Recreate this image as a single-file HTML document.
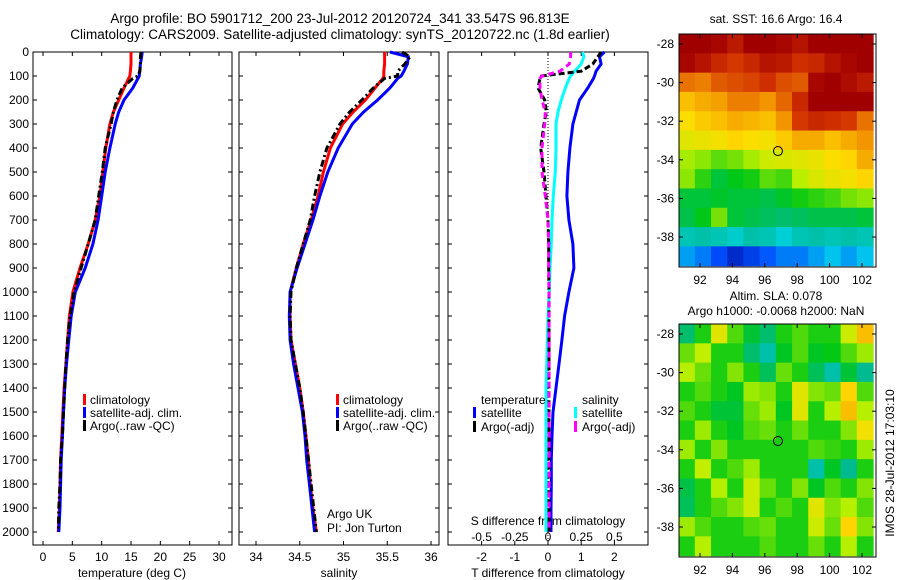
<!DOCTYPE html>
<html><head><meta charset="utf-8"><style>
html,body{margin:0;padding:0;background:#fff;}
svg{display:block;font-family:"Liberation Sans",sans-serif;}
</style></head><body>
<svg id="chart" width="900" height="580" viewBox="0 0 900 580" xmlns="http://www.w3.org/2000/svg">
<text x="340" y="23" font-size="13.5" text-anchor="middle">Argo profile: BO 5901712_200 23-Jul-2012 20120724_341 33.547S 96.813E</text>
<text x="340" y="39" font-size="13.5" text-anchor="middle">Climatology: CARS2009. Satellite-adjusted climatology: synTS_20120722.nc (1.8d earlier)</text>
<text x="776" y="23" font-size="12" text-anchor="middle">sat. SST: 16.6 Argo: 16.4</text>
<text x="776" y="300" font-size="12" text-anchor="middle">Altim. SLA: 0.078</text>
<text x="776" y="315" font-size="12" text-anchor="middle">Argo h1000: -0.0068 h2000: NaN</text>
<text transform="translate(894,463) rotate(-90)" font-size="12" text-anchor="middle">IMOS 28-Jul-2012 17:03:10</text>
<g id="g"></g>
</svg>
<script>
const depths=[0,20,50,80,100,110,150,200,250,300,400,500,600,700,800,900,1000,1100,1200,1300,1400,1500,1600,1700,1800,1900,2000];
const tempClim=[15.0,15.0,15.0,14.9,14.8,14.6,13.8,12.9,12.0,11.4,10.7,10.2,9.7,8.9,7.7,6.3,5.1,4.5,4.2,3.9,3.6,3.4,3.2,3.0,2.9,2.8,2.6];
const tempSat=[16.9,16.8,16.6,16.5,16.4,16.2,15.3,13.8,12.9,12.3,11.4,10.6,10.0,9.4,8.5,7.2,5.5,4.8,4.4,4.0,3.7,3.5,3.3,3.1,3.0,2.9,2.7];
const tempArgo=[16.7,16.6,16.6,16.5,16.2,15.3,13.5,12.6,12.0,11.6,10.6,10.1,9.5,8.9,7.7,6.5,5.3,4.6,4.2,3.9,3.7,3.5,3.3,3.0,2.9,2.7,2.6];
const salClim=[35.47,35.47,35.47,35.46,35.46,35.45,35.36,35.25,35.11,34.99,34.85,34.77,34.71,34.63,34.54,34.46,34.39,34.39,34.40,34.45,34.50,34.54,34.57,34.60,34.62,34.65,34.69];
const salSat=[35.53,35.74,35.73,35.69,35.66,35.62,35.53,35.39,35.23,35.10,34.94,34.82,34.73,34.65,34.56,34.47,34.39,34.38,34.39,34.43,34.48,34.53,34.56,34.58,34.61,34.64,34.67];
const salArgo=[35.67,35.76,35.70,35.62,35.62,35.47,35.34,35.21,35.07,34.96,34.81,34.73,34.67,34.62,34.54,34.46,34.40,34.39,34.40,34.45,34.50,34.54,34.57,34.60,34.63,34.66,34.69];
const tDiffSat=[1.7,1.55,1.6,1.45,1.4,1.37,1.2,0.95,0.85,0.75,0.66,0.6,0.57,0.63,0.75,0.78,0.63,0.5,0.42,0.33,0.24,0.15,0.12,0.1,0.1,0.09,0.09];
const tDiffArgo=[1.6,1.5,1.35,1.0,-0.2,-0.24,-0.3,-0.1,-0.05,-0.12,-0.22,-0.12,-0.06,0.0,0.02,0.02,0.03,0.03,0.03,0.03,0.03,0.03,0.03,0.03,0.03,0.03,0.03];
const sDiffSat=[0.26,0.27,0.25,0.2,0.17,0.16,0.13,0.1,0.075,0.06,0.06,0.055,0.04,0.03,0.025,0.015,0.01,0.0,-0.005,-0.01,-0.015,-0.015,-0.015,-0.015,-0.015,-0.015,-0.015];
const sDiffArgo=[0.17,0.17,0.16,0.09,-0.045,-0.06,-0.06,-0.045,-0.02,-0.025,-0.045,-0.045,-0.02,0.0,0.005,0.005,0.008,0.008,0.008,0.008,0.008,0.008,0.008,0.008,0.008,0.008,0.008];
const depthTicks=[0,100,200,300,400,500,600,700,800,900,1000,1100,1200,1300,1400,1500,1600,1700,1800,1900,2000];
const tempTicks=[0,5,10,15,20,25,30];
const salTicks=[34,34.5,35,35.5,36];
const tDiffTicks=[-2,-1,0,1,2];
const sDiffTicks=[-0.5,-0.25,0,0.25,0.5];
const sDiffTickLabels=["-0.5","-0.25","0","0.25","0.5"];
const lonTicks=[92,94,96,98,100,102];
const latTicks=[-28,-30,-32,-34,-36,-38];
const gridLats=[-28,-29,-30,-31,-32,-33,-34,-35,-36,-37,-38,-39];
const gridLons=[91.2,92.2,93.2,94.2,95.2,96.2,97.2,98.2,99.2,100.2,101.2,102.2];
const sst=[
[19.8,19.8,19.5,19.2,19.6,19.8,19.5,19.3,19.6,19.8,19.8,19.8],
[19.5,19.3,19.0,18.8,19.0,19.3,19.2,18.9,19.0,19.3,19.5,19.6],
[18.3,18.2,18.5,18.6,18.7,18.9,18.6,18.5,19.5,19.8,19.4,19.2],
[17.6,17.8,17.9,18.2,18.2,18.0,18.4,19.0,19.8,19.8,19.7,19.6],
[17.3,17.5,17.6,17.8,17.7,17.6,18.0,18.8,19.0,18.9,18.8,18.3],
[17.0,17.1,17.2,17.4,17.3,17.2,17.5,17.8,17.8,17.6,17.8,18.0],
[16.5,16.4,16.2,16.3,16.5,16.8,16.9,17.0,17.1,17.3,17.4,17.8],
[16.4,16.0,15.6,15.8,15.9,16.2,16.1,16.6,16.9,17.1,17.2,17.4],
[15.6,15.6,15.7,15.6,15.6,15.5,15.7,15.9,16.0,16.1,16.3,16.4],
[15.5,15.8,16.3,15.6,15.5,15.4,15.3,15.4,15.5,15.5,15.5,15.6],
[14.8,14.9,14.8,14.6,14.9,14.8,14.5,14.8,14.9,14.8,14.9,14.8],
[14.0,13.8,13.5,13.2,13.4,13.6,13.8,13.8,14.0,14.2,14.0,14.2]];
const sla=[
[-0.06,0.0,0.1,0.02,-0.03,-0.06,0.0,0.02,0.0,0.0,0.08,0.16],
[0.03,0.07,0.0,0.0,-0.06,-0.1,-0.02,0.02,-0.02,-0.01,0.02,0.05],
[0.06,0.03,0.0,0.04,0.0,-0.05,0.03,0.0,-0.05,-0.1,-0.03,-0.08],
[0.0,0.02,0.0,-0.02,0.05,0.04,0.0,0.1,0.04,0.03,0.14,0.02],
[0.02,0.0,-0.03,-0.03,0.03,0.05,-0.02,0.1,0.0,0.06,0.16,0.06],
[0.0,0.05,0.0,-0.02,0.02,0.03,0.0,0.03,0.0,0.0,0.04,0.12],
[0.05,0.0,0.04,0.0,0.0,0.0,0.0,0.0,0.02,0.01,0.0,0.05],
[0.0,0.07,0.0,0.02,0.05,0.0,0.0,0.0,-0.1,-0.02,-0.08,0.0],
[-0.04,0.0,0.06,0.0,0.08,0.03,0.0,0.04,-0.02,0.02,0.0,0.04],
[-0.05,0.0,0.02,0.04,0.08,0.0,0.02,0.0,0.1,0.04,0.06,0.02],
[0.05,0.02,0.0,0.0,0.02,0.03,0.0,0.0,0.08,0.03,0.14,0.04],
[0.0,0.06,0.0,0.0,0.0,0.02,0.0,0.0,0.03,0.0,0.06,0.0]];
const argoLon=96.813, argoLat=-33.547;

const NS="http://www.w3.org/2000/svg";
const G=document.getElementById('g');
function mk(tag,attrs,parent){const e=document.createElementNS(NS,tag);for(const k in attrs)e.setAttribute(k,attrs[k]);(parent||G).appendChild(e);return e;}
const yD=d=>52+d*0.24;
const PT={x0:33,x1:232}, PS={x0:239,x1:439}, PD={x0:448,x1:648};
const xT=v=>43+v*5.867;
const xS=v=>256+(v-34)*87.5;
const xTd=v=>548+v*33.2;
const xSd=v=>548+v*132.8;
const TOP=52,BOT=545;

function frame(P,name){
  const r=mk('rect',{x:P.x0,y:TOP,width:P.x1-P.x0,height:BOT-TOP,fill:'none',stroke:'#000','stroke-width':1});
  
  
  depthTicks.forEach(d=>{
    mk('line',{x1:P.x0,x2:P.x0+4,y1:yD(d),y2:yD(d),stroke:'#000'});
    mk('line',{x1:P.x1-4,x2:P.x1,y1:yD(d),y2:yD(d),stroke:'#000'});
  });
}
function xticks(P,ticks,fx,labels,y,name,top){
  ticks.forEach((t,i)=>{
    const x=fx(t);
    mk('line',{x1:x,x2:x,y1:BOT,y2:BOT-4,stroke:'#000'});
    if(top!==false) mk('line',{x1:x,x2:x,y1:TOP,y2:TOP+4,stroke:'#000'});
    const tx=mk('text',{x:x,y:y,'font-size':12,'text-anchor':'middle'});
    tx.textContent=labels?labels[i]:String(t);
    
    
  });
}
function series(vals,fx,color,dash,name,width){
  const pts=[];
  vals.forEach((v,i)=>pts.push(fx(v).toFixed(1)+','+yD(depths[i]).toFixed(1)));
  const p=mk('polyline',{points:pts.join(' '),fill:'none',stroke:color,'stroke-width':width||3,'stroke-dasharray':dash||'none'});
  
  
}
function txt(x,y,s,name,size,anchor){
  const t=mk('text',{x:x,y:y,'font-size':size||12,'text-anchor':anchor||'start'});
  t.textContent=s;
  
  
}
function legendBar(x,y,color,name){
  const r=mk('rect',{x:x,y:y-10,width:3,height:11,fill:color});
  
  
}

depthTicks.forEach(d=>{
  const t=mk('text',{x:29,y:yD(d)+4,'font-size':12,'text-anchor':'end'});
  t.textContent=String(d);
  
  
});

frame(PT,'temperature-panel');
xticks(PT,tempTicks,xT,null,561,'temperature-tick-label');
txt(132,577,'temperature (deg C)','temperature-axis-title',12,'middle');
series(tempClim,xT,'#f00',null,'temperature-climatology-line');
series(tempSat,xT,'#00f',null,'temperature-satellite-line');
series(tempArgo,xT,'#000','7,3,2,3','temperature-argo-line');
legendBar(83,404,'#f00','legend-climatology-swatch');txt(90,404,'climatology','legend-climatology');
legendBar(83,417,'#00f','legend-satellite-swatch');txt(90,417,'satellite-adj. clim.','legend-satellite-adj');
legendBar(83,430,'#000','legend-argo-swatch');txt(90,430,'Argo(..raw -QC)','legend-argo');

frame(PS,'salinity-panel');
xticks(PS,salTicks,xS,null,561,'salinity-tick-label');
txt(339,577,'salinity','salinity-axis-title',12,'middle');
series(salClim,xS,'#f00',null,'salinity-climatology-line');
series(salSat,xS,'#00f',null,'salinity-satellite-line');
series(salArgo,xS,'#000','7,3,2,3','salinity-argo-line');
legendBar(336,404,'#f00','legend-climatology-swatch');txt(343,404,'climatology','legend-climatology');
legendBar(336,417,'#00f','legend-satellite-swatch');txt(343,417,'satellite-adj. clim.','legend-satellite-adj');
legendBar(336,430,'#000','legend-argo-swatch');txt(343,430,'Argo(..raw -QC)','legend-argo');
txt(327,518,'Argo UK','argo-uk-label');
txt(327,532,'PI: Jon Turton','pi-label');

frame(PD,'difference-panel');
mk('line',{x1:548,x2:548,y1:TOP,y2:BOT,stroke:'#000','stroke-dasharray':'1,2'});
xticks(PD,tDiffTicks,xTd,null,561,'t-difference-tick-label');
sDiffTicks.forEach((t,i)=>{const tx=mk('text',{x:xSd(t),y:541,'font-size':12,'text-anchor':'middle'});tx.textContent=sDiffTickLabels[i];
  
  });
txt(548,525,'S difference from climatology','s-difference-axis-title',12,'middle');
txt(548,577,'T difference from climatology','t-difference-axis-title',12,'middle');
series(tDiffSat,xTd,'#00f',null,'t-diff-satellite-line');
series(sDiffSat,xSd,'#0ff',null,'s-diff-satellite-line');
series(tDiffArgo,xTd,'#000','6,3','t-diff-argo-line');
series(sDiffArgo,xSd,'#f0f','6,4','s-diff-argo-line');
txt(481,404,'temperature','legend-temperature-heading');
legendBar(473,417,'#00f','legend-t-satellite-swatch');txt(481,417,'satellite','legend-t-satellite');
legendBar(473,431,'#000','legend-t-argo-swatch');txt(481,431,'Argo(-adj)','legend-t-argo');
txt(582,404,'salinity','legend-salinity-heading');
legendBar(574,417,'#0ff','legend-s-satellite-swatch');txt(582,417,'satellite','legend-s-satellite');
legendBar(574,431,'#f0f','legend-s-argo-swatch');txt(582,431,'Argo(-adj)','legend-s-argo');

const stops=[[0,0,140],[0,80,255],[0,215,235],[0,185,150],[0,200,20],[185,240,0],[255,220,0],[240,140,0],[210,50,0],[160,0,0]];
function cmap(t){t=Math.max(0,Math.min(1,t));const f=t*(stops.length-1);const i=Math.min(stops.length-2,Math.floor(f));const a=f-i;
  const c=stops[i].map((v,k)=>Math.round(v+(stops[i+1][k]-v)*a));return 'rgb('+c.join(',')+')';}

function drawMap(top,grid,vmin,vmax,name){
  const X0=679,X1=876,Y0=top,Y1=top+233;
  const xL=v=>700+(v-92)*16.2;
  const yL=v=>(top+10)+(-28-v)*19.3;
  const cw=16.2, ch=19.3;
  const clip=mk('clipPath',{id:'clip'+name});
  mk('rect',{x:X0,y:Y0,width:X1-X0,height:Y1-Y0},clip);
  const grp=mk('g',{'clip-path':'url(#clip'+name+')'});
  
  
  gridLats.forEach((la,r)=>gridLons.forEach((lo,c)=>{
    const v=grid[r][c];
    const cell=mk('rect',{x:xL(lo)-cw/2-0.3,y:yL(la)-ch/2-0.3,width:cw+0.6,height:ch+0.6,fill:cmap((v-vmin)/(vmax-vmin))},grp);
    
    
  }));
  const fr=mk('rect',{x:X0,y:Y0,width:X1-X0,height:Y1-Y0,fill:'none',stroke:'#000'});
  
  
  lonTicks.forEach(l=>{const x=xL(l);mk('line',{x1:x,x2:x,y1:Y1,y2:Y1-4,stroke:'#000'});mk('line',{x1:x,x2:x,y1:Y0,y2:Y0+4,stroke:'#000'});
    const t=mk('text',{x:x,y:Y1+17,'font-size':12,'text-anchor':'middle'});t.textContent=String(l);
    
    });
  latTicks.forEach(l=>{const y=yL(l);mk('line',{x1:X0,x2:X0+4,y1:y,y2:y,stroke:'#000'});mk('line',{x1:X1-4,x2:X1,y1:y,y2:y,stroke:'#000'});
    const t=mk('text',{x:X0-5,y:y+4,'font-size':12,'text-anchor':'end'});t.textContent=String(l);
    
    });
  const c=mk('circle',{cx:xL(argoLon),cy:yL(argoLat),r:4.5,fill:'none',stroke:'#000'});
  
  
}
drawMap(34,sst,12.8,19.6,'sst-map');
drawMap(324,sla,-0.3,0.35,'sla-map');
</script>
</body></html>
